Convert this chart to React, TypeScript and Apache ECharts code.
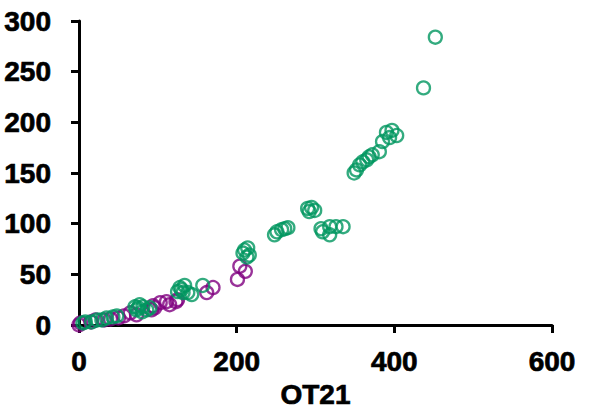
import React, { useEffect, useRef } from "react";
import * as echarts from "echarts";

const xTicks = [0, 200, 400, 600];
const yTicks = [0, 50, 100, 150, 200, 250, 300];
const xName = "OT21";

const purpleX = [0, 2, 15, 21, 32, 40, 50, 57, 65, 73, 92, 96, 94, 103, 111, 115, 123, 125, 162, 170, 201, 204, 211];
const purpleY = [0, 2, 3, 5, 5, 6, 7, 9, 12, 10, 15, 17, 19, 22, 23, 20, 23, 25, 32, 37, 45, 58, 53];

const greenX = [5, 8, 16, 23, 29, 35, 43, 48, 71, 73, 77, 80, 81, 86, 90, 75, 125, 128, 132, 134, 138, 143, 130, 157,
  208, 210, 213, 214, 216, 248, 251, 257, 261, 265, 290, 292, 295, 299,
  307, 309, 318, 318, 326, 335,
  349, 352, 356, 360, 365, 368, 372, 381, 385, 394, 390, 397, 403, 437, 452];
const greenY = [2, 3, 3, 5, 5, 7, 8, 9, 18, 15, 20, 13, 18, 15, 17, 17, 33, 37, 32, 39, 32, 30, 35, 39,
  71, 74, 67, 76, 69, 89, 92, 94, 95, 96, 115, 112, 116, 113,
  95, 92, 97, 89, 97, 97,
  150, 153, 158, 161, 163, 166, 168, 171, 181, 185, 190, 192, 187, 234, 284];

const PURPLE = "#800080";
const GREEN = "#00965F";

export default function App() {
  const ref = useRef<HTMLDivElement>(null);
  useEffect(() => {
    if (!ref.current) return;
    const chart = echarts.init(ref.current, null, { renderer: "svg" });
    const font = "Arial, Liberation Sans, sans-serif";
    const textStyle = {
      fontFamily: font,
      fontWeight: "bold",
      fontSize: 28,
      color: "#000",
      textBorderColor: "#000",
      textBorderWidth: 0.7,
    };
    const axisCommon = {
      axisLine: { show: true, lineStyle: { color: "#000", width: 3 } },
      axisTick: { show: true, length: 8, lineStyle: { color: "#000", width: 3 } },
      splitLine: { show: false },
    };
    chart.setOption({
      animation: false,
      backgroundColor: "#fff",
      grid: { left: 79, right: 40, top: 21, bottom: 90, containLabel: false },
      xAxis: {
        type: "value",
        min: xTicks[0],
        max: xTicks[xTicks.length - 1],
        interval: 200,
        name: xName,
        nameLocation: "middle",
        nameGap: 36,
        nameTextStyle: { ...textStyle },
        ...axisCommon,
        axisLabel: { ...textStyle, margin: 22 },
      },
      yAxis: {
        type: "value",
        min: yTicks[0],
        max: yTicks[yTicks.length - 1],
        interval: 50,
        ...axisCommon,
        axisLabel: { ...textStyle, margin: 28 },
      },
      series: [
        {
          type: "scatter",
          data: purpleX.map((x, i) => [x, purpleY[i]]),
          symbol: "circle",
          symbolSize: 13,
          clip: false,
          itemStyle: { color: "rgba(0,0,0,0)", borderColor: PURPLE, borderWidth: 2.3 },
        },
        {
          type: "scatter",
          data: greenX.map((x, i) => [x, greenY[i]]),
          symbol: "circle",
          symbolSize: 13,
          clip: false,
          itemStyle: { color: "rgba(0,0,0,0)", borderColor: GREEN, borderWidth: 2.3 },
        },
      ],
    });
    return () => chart.dispose();
  }, []);
  return (
    <div
      ref={ref}
      style={{ position: "absolute", left: 0, top: 0, width: 592, height: 415 }}
    />
  );
}
